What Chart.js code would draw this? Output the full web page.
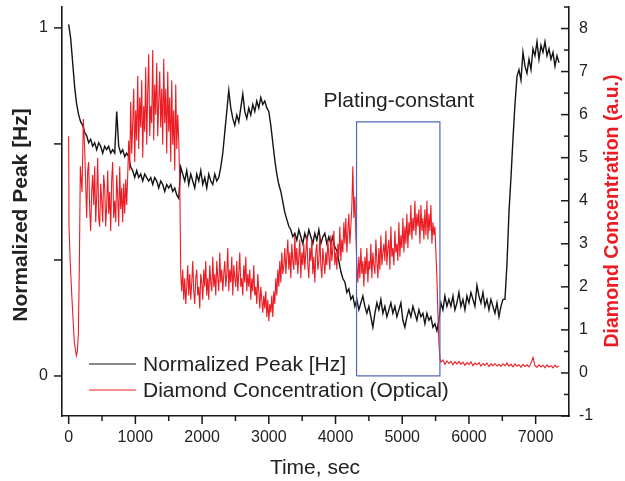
<!DOCTYPE html>
<html><head><meta charset="utf-8">
<script src="https://cdn.jsdelivr.net/npm/chart.js@4.4.0/dist/chart.umd.min.js"></script>
<style>html,body{margin:0;padding:0;background:#fff;overflow:hidden}canvas{display:block}</style>
</head><body><canvas id="c" width="625" height="481"></canvas>
<script>
// ---- data ----
const peakTimes = [
0,30,60,90,120,150,180,210,240,270,
300,330,360,390,420,450,480,510,540,570,
600,630,660,690,720,750,780,810,840,870,
900,930,960,990,1020,1050,1080,1110,1140,1170,
1200,1230,1260,1290,1320,1350,1380,1410,1440,1470,
1500,1530,1560,1590,1620,1650,1680,1710,1740,1770,
1800,1830,1860,1890,1920,1950,1980,2010,2040,2070,
2100,2130,2160,2190,2220,2250,2280,2310,2340,2370,
2400,2430,2460,2490,2520,2550,2580,2610,2640,2670,
2700,2730,2760,2790,2820,2850,2880,2910,2940,2970,
3000,3030,3060,3090,3120,3150,3180,3210,3240,3270,
3300,3330,3360,3390,3420,3450,3480,3510,3540,3570,
3600,3630,3660,3690,3720,3750,3780,3810,3840,3870,
3900,3930,3960,3990,4020,4050,4080,4110,4140,4170,
4200,4230,4260,4290,4320,4350,4380,4410,4440,4470,
4500,4530,4560,4590,4620,4650,4680,4710,4740,4770,
4800,4830,4860,4890,4920,4950,4980,5010,5040,5070,
5100,5130,5160,5190,5220,5250,5280,5310,5340,5370,
5400,5430,5460,5490,5520,5550,5580,5610,5640,5670,
5700,5730,5760,5790,5820,5850,5880,5910,5940,5970,
6000,6030,6060,6090,6120,6150,6180,6210,6240,6270,
6300,6330,6360,6390,6420,6450,6480,6510,6540,6570,
6600,6630,6660,6690,6720,6750,6780,6810,6840,6870,
6900,6930,6960,6990,7020,7050,7080,7110,7140,7170,
7200,7230,7260,7290,7320,7350];

const peakValues = [
1.01,0.97,0.90,0.83,0.78,0.75,0.73,0.72,0.70,0.69,
0.67,0.68,0.66,0.67,0.65,0.67,0.66,0.64,0.66,0.65,
0.66,0.64,0.65,0.64,0.76,0.66,0.64,0.65,0.63,0.64,
0.63,0.60,0.59,0.57,0.59,0.57,0.58,0.56,0.58,0.57,
0.56,0.57,0.55,0.57,0.56,0.54,0.56,0.55,0.53,0.55,
0.54,0.55,0.53,0.54,0.52,0.51,0.60,0.58,0.56,0.59,
0.55,0.58,0.56,0.54,0.58,0.56,0.59,0.55,0.57,0.54,
0.58,0.56,0.55,0.58,0.56,0.57,0.60,0.64,0.70,0.76,
0.82,0.77,0.74,0.72,0.75,0.73,0.77,0.81,0.76,0.74,
0.77,0.75,0.78,0.76,0.79,0.77,0.80,0.78,0.79,0.77,
0.76,0.72,0.67,0.62,0.58,0.55,0.53,0.50,0.47,0.45,
0.43,0.42,0.40,0.41,0.39,0.42,0.40,0.38,0.41,0.39,
0.42,0.40,0.38,0.41,0.39,0.42,0.38,0.40,0.41,0.38,
0.40,0.38,0.40,0.37,0.36,0.33,0.30,0.28,0.27,0.24,
0.25,0.22,0.23,0.20,0.22,0.19,0.21,0.23,0.20,0.18,
0.20,0.17,0.14,0.18,0.21,0.19,0.22,0.18,0.20,0.17,
0.19,0.21,0.18,0.20,0.17,0.19,0.21,0.16,0.14,0.17,
0.19,0.17,0.20,0.18,0.16,0.19,0.17,0.18,0.15,0.18,
0.16,0.17,0.14,0.15,0.13,0.16,0.21,0.19,0.23,0.20,
0.22,0.20,0.23,0.19,0.21,0.24,0.20,0.22,0.19,0.23,
0.21,0.24,0.22,0.20,0.26,0.23,0.21,0.24,0.20,0.22,
0.19,0.22,0.20,0.18,0.21,0.17,0.20,0.22,0.22,0.32,
0.47,0.57,0.68,0.78,0.86,0.88,0.85,0.93,0.89,0.87,
0.91,0.88,0.94,0.92,0.96,0.91,0.95,0.93,0.96,0.92,
0.94,0.91,0.93,0.89,0.92,0.90];

// Diamond concentration: dip at the start, noisy middle (15 s), flat tail (30 s)
const diamondEarlyTimes = [0,5,25,50,85,115,130,145,160,175,200,220];
const diamondEarlyValues = [5.5,3.4,2.5,1.7,0.7,0.4,0.5,0.9,2.5,4.8,4.2,5.9];

const diamondNoisyTimes = [
240,255,270,285,300,315,330,345,360,375,390,405,420,435,450,465,480,495,510,525,
540,555,570,585,600,615,630,645,660,675,690,705,720,735,750,765,780,795,810,825,
840,855,870,885,900,915,930,945,960,975,990,1005,1020,1035,1050,1065,1080,1095,1110,1125,
1140,1155,1170,1185,1200,1215,1230,1245,1260,1275,1290,1305,1320,1335,1350,1365,1380,1395,1410,1425,
1440,1455,1470,1485,1500,1515,1530,1545,1560,1575,1590,1605,1620,1635,1650,1665,1680,1695,1710,1725,
1740,1755,1770,1785,1800,1815,1830,1845,1860,1875,1890,1905,1920,1935,1950,1965,1980,1995,2010,2025,
2040,2055,2070,2085,2100,2115,2130,2145,2160,2175,2190,2205,2220,2235,2250,2265,2280,2295,2310,2325,
2340,2355,2370,2385,2400,2415,2430,2445,2460,2475,2490,2505,2520,2535,2550,2565,2580,2595,2610,2625,
2640,2655,2670,2685,2700,2715,2730,2745,2760,2775,2790,2805,2820,2835,2850,2865,2880,2895,2910,2925,
2940,2955,2970,2985,3000,3015,3030,3045,3060,3075,3090,3105,3120,3135,3150,3165,3180,3195,3210,3225,
3240,3255,3270,3285,3300,3315,3330,3345,3360,3375,3390,3405,3420,3435,3450,3465,3480,3495,3510,3525,
3540,3555,3570,3585,3600,3615,3630,3645,3660,3675,3690,3705,3720,3735,3750,3765,3780,3795,3810,3825,
3840,3855,3870,3885,3900,3915,3930,3945,3960,3975,3990,4005,4020,4035,4050,4065,4080,4095,4110,4125,
4140,4155,4170,4185,4200,4215,4230,4245,4260,4275,4290,4305,4320,4335,4350,4365,4380,4395,4410,4425,
4440,4455,4470,4485,4500,4515,4530,4545,4560,4575,4590,4605,4620,4635,4650,4665,4680,4695,4710,4725,
4740,4755,4770,4785,4800,4815,4830,4845,4860,4875,4890,4905,4920,4935,4950,4965,4980,4995,5010,5025,
5040,5055,5070,5085,5100,5115,5130,5145,5160,5175,5190,5205,5220,5235,5250,5265,5280,5295,5310,5325,
5340,5355,5370,5385,5400,5415,5430,5445,5460,5475,5490,5505,5520,5535,5550,5565];

const diamondNoisyValues = [
5.2,4.4,3.6,4.7,4.9,3.8,3.3,4.2,4.6,3.9,4.8,3.5,4.1,5.0,3.6,3.4,4.4,4.0,3.5,4.6,
4.3,3.4,3.9,4.7,3.7,4.2,3.3,4.5,4.9,3.6,4.0,3.5,4.6,4.1,3.4,4.8,3.8,4.3,3.5,4.4,
3.7,4.5,3.9,4.6,5.4,4.7,6.3,5.1,5.8,6.6,4.9,6.1,5.4,6.9,5.2,6.4,5.7,6.8,5.0,6.2,
5.6,7.1,5.3,6.5,7.4,5.5,6.2,5.8,7.5,5.4,6.7,6.0,7.2,5.5,6.3,7.0,5.7,6.6,5.3,7.3,
5.8,6.6,5.1,7.0,5.6,6.4,4.9,6.8,5.3,6.1,4.7,6.7,5.2,6.0,5.4,4.5,2.3,1.9,2.4,1.7,
2.2,1.6,2.0,2.5,1.8,2.3,1.7,2.1,2.6,1.9,1.6,2.2,2.4,1.8,2.0,1.5,2.3,2.1,1.7,2.4,
2.0,2.6,1.8,2.2,1.7,2.5,2.1,1.9,2.7,2.0,2.3,1.8,2.6,2.2,1.9,2.8,2.1,2.4,1.9,2.3,
2.6,2.0,2.3,2.9,1.9,2.4,2.1,2.7,1.8,2.5,2.2,2.0,2.6,1.9,2.3,2.8,2.0,2.2,1.8,2.5,
2.1,2.7,1.9,2.3,2.0,2.4,1.7,2.2,1.9,2.5,1.8,2.0,1.6,2.3,1.9,1.5,2.0,1.7,1.4,1.8,
1.5,1.9,1.3,1.7,1.2,1.6,1.4,1.8,1.3,1.9,1.6,2.2,1.8,2.4,2.0,2.6,2.1,2.8,2.3,2.5,
2.9,2.3,2.7,3.1,2.4,2.8,2.2,3.0,2.6,2.4,3.2,2.5,2.9,2.3,2.7,3.1,2.2,2.8,2.5,3.0,
2.4,2.8,3.2,2.5,2.2,2.9,2.6,3.1,2.3,2.7,2.1,2.8,3.0,2.4,2.6,3.2,2.5,2.2,2.9,2.6,
2.3,2.8,2.5,3.1,2.7,2.4,3.2,2.6,2.9,3.3,2.5,2.8,2.4,3.0,2.7,3.4,2.6,3.1,2.8,3.5,
3.0,3.6,2.8,3.3,3.7,3.0,3.4,3.9,4.8,3.6,4.1,3.2,2.5,2.1,2.7,2.2,2.9,2.3,2.6,2.0,
2.7,2.3,2.9,2.1,2.6,2.4,3.0,2.2,2.8,2.5,2.3,3.1,2.6,2.2,2.9,2.4,3.2,2.5,2.8,3.0,
2.6,3.3,2.5,2.9,3.1,2.4,3.4,2.7,2.9,2.5,3.3,2.8,3.0,2.6,3.5,2.7,3.2,2.9,3.6,2.8,
3.4,3.0,3.7,2.9,3.5,3.2,3.9,3.1,3.6,3.3,4.0,3.2,3.7,3.4,3.8,3.0,3.9,3.3,3.6,3.1,
3.8,3.2,4.0,3.1,3.7,3.3,3.9,3.0,3.5,3.2,3.4,2.8,2.2,1.4,0.7,0.35];

const diamondTailValues = [
0.25,0.3,
0.2,0.28,0.22,0.27,0.19,0.26,0.21,0.27,0.2,0.25,
0.18,0.24,0.2,0.26,0.17,0.23,0.19,0.24,0.16,0.22,
0.18,0.23,0.15,0.21,0.17,0.22,0.16,0.2,0.15,0.21,
0.17,0.23,0.16,0.2,0.14,0.21,0.16,0.19,0.13,0.2,
0.15,0.19,0.14,0.22,0.36,0.17,0.13,0.19,0.14,0.18,
0.12,0.19,0.14,0.17,0.12,0.18,0.13,0.16];
const diamondTailTimes = peakTimes.slice(peakTimes.indexOf(5580));

const diamondTimes = diamondEarlyTimes.concat(diamondNoisyTimes, diamondTailTimes);
const diamondValues = diamondEarlyValues.concat(diamondNoisyValues, diamondTailValues);

const boxTimes = [4315, 5565];     // "Plating-constant" window
const boxLevels = [0, 0.73];       // on the Normalized Peak axis
const boxLabel = 'Plating-constant';
const boxLabelPos = [4950, 0.79];

const seriesNames = ['Normalized Peak [Hz]', 'Diamond Concentration (Optical)'];
const xTitle = 'Time, sec';
const leftTitle = 'Normalized Peak [Hz]';
const rightTitle = 'Diamond Concentration (a.u.)';

const xMajorTicks = [0,1000,2000,3000,4000,5000,6000,7000];
const xMinorTicks = [500,1500,2500,3500,4500,5500,6500];
const leftTickValues = [0, 1/3, 2/3, 1];
const leftTickLabels = ['0', '', '', '1'];
const rightMajorTicks = [-1,0,1,2,3,4,5,6,7,8];
const rightMinorTicks = [-0.5,0.5,1.5,2.5,3.5,4.5,5.5,6.5,7.5,8.5];

// ---- styles ----
const FONT = "'Liberation Sans', Arial, Helvetica, sans-serif";
const BLACK = '#141414';
const RED = '#ec1c24';
const BLUE = '#5068bc';
const TEXT = '#222222';

const peakData = peakTimes.map((t, i) => ({x: t, y: peakValues[i]}));
const diamondData = diamondTimes.map((t, i) => ({x: t, y: diamondValues[i]}));
const boxData = [
  {x: boxTimes[0], y: boxLevels[0]}, {x: boxTimes[0], y: boxLevels[1]},
  {x: boxTimes[1], y: boxLevels[1]}, {x: boxTimes[1], y: boxLevels[0]},
  {x: boxTimes[0], y: boxLevels[0]}];

function seg(ctx, x1, y1, x2, y2) { ctx.beginPath(); ctx.moveTo(x1, y1); ctx.lineTo(x2, y2); ctx.stroke(); }
function noPad(s) { s.paddingTop = 0; s.paddingBottom = 0; s.paddingLeft = 0; s.paddingRight = 0; }

const decor = {
  id: 'decor',
  afterDraw(chart) {
    const {ctx, chartArea: ca} = chart;
    const {x, yL, yR} = chart.scales;
    ctx.save();
    ctx.strokeStyle = '#1a1a1a';
    ctx.lineWidth = 1.5;
    xMajorTicks.forEach(v => { const p = x.getPixelForValue(v); seg(ctx, p, ca.bottom, p, ca.bottom + 8); });
    xMinorTicks.forEach(v => { const p = x.getPixelForValue(v); seg(ctx, p, ca.bottom, p, ca.bottom + 5); });
    leftTickValues.forEach(v => { const p = yL.getPixelForValue(v); seg(ctx, ca.left - 8, p, ca.left, p); });
    rightMajorTicks.forEach(v => { const p = yR.getPixelForValue(v); seg(ctx, ca.right - 8, p, ca.right, p); });
    rightMinorTicks.forEach(v => { const p = yR.getPixelForValue(v); seg(ctx, ca.right - 5, p, ca.right, p); });

    // axis titles
    ctx.textAlign = 'center';
    ctx.textBaseline = 'middle';
    ctx.fillStyle = TEXT;
    ctx.font = '21px ' + FONT;
    ctx.fillText(xTitle, 315, 468);
    ctx.save();
    ctx.translate(21, 215);
    ctx.rotate(-Math.PI / 2);
    ctx.font = 'bold 21px ' + FONT;
    ctx.fillText(leftTitle, 0, 0);
    ctx.restore();
    ctx.save();
    ctx.translate(613, 211);
    ctx.rotate(-Math.PI / 2);
    ctx.font = 'bold 19.5px ' + FONT;
    ctx.fillStyle = RED;
    ctx.fillText(rightTitle, 0, 0);
    ctx.restore();

    // annotation label
    ctx.font = '21px ' + FONT;
    ctx.fillStyle = TEXT;
    ctx.fillText(boxLabel, x.getPixelForValue(boxLabelPos[0]), yL.getPixelForValue(boxLabelPos[1]));

    // legend
    const legY = [364, 390];
    const legCol = [BLACK, RED];
    ctx.textAlign = 'left';
    seriesNames.forEach((name, i) => {
      ctx.strokeStyle = legCol[i];
      ctx.lineWidth = 1.2;
      seg(ctx, 89, legY[i], 136, legY[i]);
      ctx.fillStyle = TEXT;
      ctx.fillText(name, 143, legY[i] + 1);
    });
    ctx.restore();
  }
};

const tickFont = {family: FONT, size: 16};
new Chart(document.getElementById('c'), {
  type: 'line',
  data: {
    datasets: [
      {label: 'box', data: boxData, yAxisID: 'yL', borderColor: BLUE, borderWidth: 1.2, pointRadius: 0, fill: false, order: 0},
      {label: seriesNames[1], data: diamondData, yAxisID: 'yR', borderColor: RED, borderWidth: 1.1, pointRadius: 0, fill: false, order: 1},
      {label: seriesNames[0], data: peakData, yAxisID: 'yL', borderColor: BLACK, borderWidth: 1.4, pointRadius: 0, fill: false, order: 2}
    ]
  },
  options: {
    responsive: false,
    animation: false,
    events: [],
    layout: {padding: {top: 7, left: 0, right: 0, bottom: 0}},
    plugins: {legend: {display: false}, tooltip: {enabled: false}},
    scales: {
      x: {
        type: 'linear', min: -100, max: 7500,
        grid: {display: false, drawTicks: false},
        border: {display: true, color: '#1a1a1a', width: 1.6},
        afterBuildTicks(s) { s.ticks = xMajorTicks.map(v => ({value: v})); },
        ticks: {color: TEXT, font: tickFont, padding: 12, maxRotation: 0, autoSkip: false,
          callback(v) { return String(v); }},
        afterFit(s) { s.height = 65; noPad(s); }
      },
      yL: {
        position: 'left', min: -0.115, max: 1.06,
        grid: {display: false, drawTicks: false},
        border: {display: true, color: '#1a1a1a', width: 1.6},
        afterBuildTicks(s) { s.ticks = leftTickValues.map(v => ({value: v})); },
        ticks: {color: TEXT, font: tickFont, padding: 14, autoSkip: false,
          callback(v, i) { return leftTickLabels[i]; }},
        afterFit(s) { s.width = 62; noPad(s); }
      },
      yR: {
        position: 'right', min: -1, max: 8.5,
        grid: {display: false, drawTicks: false},
        border: {display: true, color: '#1a1a1a', width: 1.6},
        afterBuildTicks(s) { s.ticks = rightMajorTicks.map(v => ({value: v})); },
        ticks: {color: TEXT, font: tickFont, padding: 10, autoSkip: false,
          callback(v) { return String(v); }},
        afterFit(s) { s.width = 56; noPad(s); }
      }
    }
  },
  plugins: [decor]
});
</script></body></html>
